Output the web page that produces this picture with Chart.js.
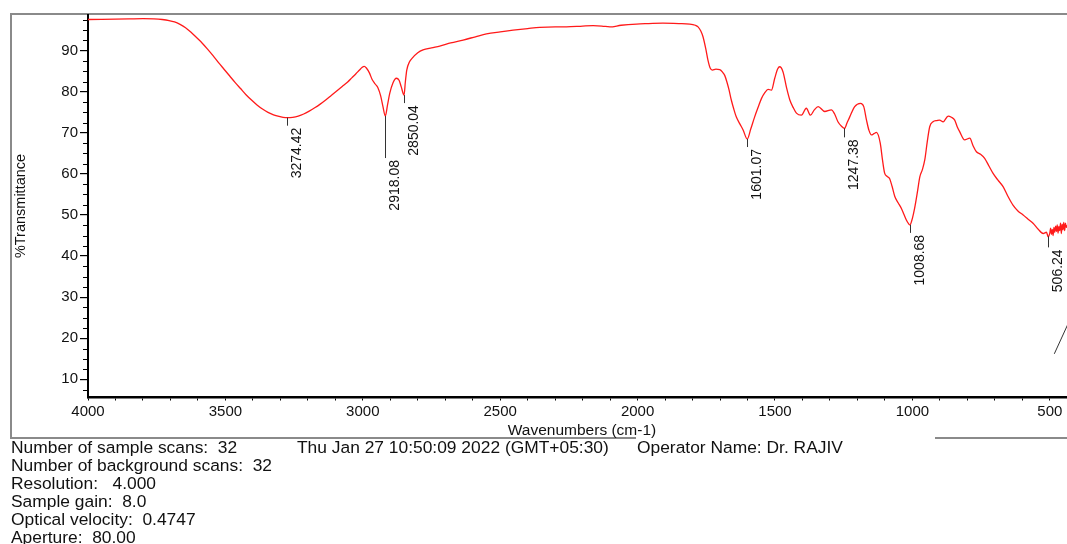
<!DOCTYPE html>
<html><head><meta charset="utf-8">
<script src="https://cdn.jsdelivr.net/npm/chart.js@4.4.1/dist/chart.umd.min.js"></script>
<style>
html,body{margin:0;padding:0;background:#fff;width:1067px;height:544px;overflow:hidden;}
#wrap{position:relative;width:1067px;height:544px;}
canvas{position:absolute;left:0;top:0;}
.info{position:absolute;font-family:"Liberation Sans",Arial,sans-serif;font-size:17.4px;line-height:18px;color:#111;white-space:pre;}
</style></head><body>
<div id="wrap"><canvas id="c" width="1067" height="544"></canvas>
<div class="info" style="left:11px;top:438px">Number of sample scans:  32
Number of background scans:  32
Resolution:   4.000
Sample gain:  8.0
Optical velocity:  0.4747
Aperture:  80.00</div>
<div class="info" style="left:297px;top:438px">Thu Jan 27 10:50:09 2022 (GMT+05:30)</div>
<div class="info" style="left:637px;top:438px">Operator Name: Dr. RAJIV</div>
</div>
<script>
const wavenumbers = [4000,3950,3900,3850,3800,3760,3730,3705,3685,3665,3645,3625,3605,3585,3565,3545,3525,3505,3485,3465,3445,3425,3405,3385,3365,3345,3325,3305,3290,3274,3255,3235,3215,3195,3175,3155,3135,3115,3095,3075,3055,3040,3025,3012,3003,2995,2987,2976,2966,2955,2945,2935,2927,2918,2910,2902,2890,2878,2868,2860,2850,2845,2840,2830,2820,2800,2781,2750,2720,2680,2635,2590,2550,2500,2453,2400,2356,2300,2259,2200,2162,2130,2101,2060,2004,1960,1908,1850,1810,1790,1780,1770,1762,1752,1744,1736,1728,1715,1701,1690,1683,1675,1667,1659,1650,1641,1628,1616,1601,1588,1574,1561,1549,1537,1525,1513,1501,1490,1483,1471,1458,1446,1434,1422,1404,1386,1371,1357,1343,1319,1295,1283,1271,1258,1247,1238,1228,1210,1189,1177,1167,1158,1149,1140,1131,1117,1109,1101,1092,1083,1074,1064,1052,1040,1031,1022,1014,1009,1000,992,982,973,964,955,946,937,925,910,901,888,870,858,846,837,828,810,791,780,767,752,737,722,707,690,670,652,634,616,597,579,561,543,524,512,506,500,497,494,491,488,485,482,479,476,473,470,467,464,461,458,455,452,449,446,443,440,437];
const transmittance = [97.6,97.65,97.7,97.75,97.8,97.75,97.6,97.35,97.0,96.4,95.6,94.5,93.2,91.9,90.4,88.8,87.1,85.5,83.9,82.3,80.8,79.3,78.0,76.8,75.8,75.0,74.4,74.0,73.8,73.7,73.8,74.1,74.6,75.3,76.1,77.0,78.0,79.1,80.2,81.3,82.4,83.4,84.4,85.3,85.9,86.2,85.8,84.6,83.0,81.9,81.0,79.0,76.5,74.1,76.8,79.6,82.2,83.3,82.8,81.2,79.2,82.5,85.3,87.3,88.2,89.5,90.2,90.7,91.1,91.9,92.6,93.4,94.1,94.6,95.0,95.4,95.7,95.8,95.8,96.0,96.1,96.0,95.8,96.2,96.5,96.6,96.7,96.6,96.5,96.2,95.8,94.8,93.4,90.5,87.7,85.8,85.3,85.5,85.4,84.7,84.0,82.4,80.4,78.0,75.8,73.9,72.2,70.7,68.5,71.0,73.9,76.3,78.4,79.8,80.6,80.4,83.3,85.6,86.1,84.9,81.0,78.0,76.2,74.8,74.3,76.0,74.3,75.6,76.4,75.2,75.6,74.6,72.7,71.6,71.1,72.4,73.9,76.4,77.2,76.4,73.1,70.6,69.5,69.8,70.1,67.5,63.5,60.2,59.4,58.9,57.0,54.5,53.0,51.6,50.2,48.8,47.9,47.6,49.2,51.6,55.5,59.3,61.0,63.4,67.8,71.5,72.7,73.0,73.1,72.7,74.1,73.8,73.1,71.5,70.3,68.3,68.7,67.0,65.4,64.8,63.8,62.0,60.2,58.6,56.9,54.5,52.4,51.0,50.0,49.0,48.0,46.6,45.5,45.8,44.7,45.6,46.8,45.3,46.5,45.0,47.0,45.8,47.3,46.0,47.6,45.6,47.2,46.2,48.0,45.5,47.8,46.4,48.2,46.2,48.0,47.0,47.5];
const peakWavenumbers = [3274.42, 2918.08, 2850.04, 1601.07, 1247.38, 1008.68, 506.24];
const peakTransmittance = [73.7, 74.1, 79.2, 68.5, 71.1, 47.6, 44.8];
const peakLabels = ['3274.42', '2918.08', '2850.04', '1601.07', '1247.38', '1008.68', '506.24'];
const leaderLineW = [483.6, 420];
const leaderLineT = [16.2, 25.5];
const yTickLabels = [10, 20, 30, 40, 50, 60, 70, 80, 90];
const xTickLabels = [4000, 3500, 3000, 2500, 2000, 1500, 1000, 500];

// styles (not data)
const peakLineLen = [8, 42, 8, 8, 9, 8, 11];
const FONT = '"Liberation Sans", Arial, sans-serif';

const xMinor = [];
for (let v = 500; v <= 4000; v += 100) xMinor.push(v);
const yMinor = [];
for (let v = 7.5; v <= 98; v += 2.5) if (v % 10 !== 0) yMinor.push(v);

const decor = {
  id: 'decor',
  beforeDraw(chart) {
    const ctx = chart.ctx;
    ctx.save();
    ctx.strokeStyle = '#8a8a8a';
    ctx.lineWidth = 2;
    ctx.beginPath();
    ctx.moveTo(1070, 14); ctx.lineTo(11, 14); ctx.lineTo(11, 438); ctx.lineTo(636, 438);
    ctx.moveTo(935, 438); ctx.lineTo(1070, 438);
    ctx.stroke();
    ctx.restore();
  },
  afterDraw(chart) {
    const ctx = chart.ctx;
    const xs = chart.scales.x, ys = chart.scales.y;
    ctx.save();
    ctx.strokeStyle = '#000';
    ctx.lineWidth = 1;
    ctx.beginPath();
    yMinor.forEach(v => {
      const py = Math.round(ys.getPixelForValue(v)) + 0.5;
      ctx.moveTo(xs.left - 5, py); ctx.lineTo(xs.left, py);
    });
    ctx.stroke();
    ctx.strokeStyle = '#333';
    ctx.fillStyle = '#111';
    ctx.font = '14px ' + FONT;
    peakWavenumbers.forEach((w, i) => {
      const px = Math.round(xs.getPixelForValue(w)) + 0.5;
      const py0 = ys.getPixelForValue(peakTransmittance[i]);
      const py1 = py0 + peakLineLen[i];
      ctx.beginPath(); ctx.moveTo(px, py0); ctx.lineTo(px, py1); ctx.stroke();
      ctx.save();
      ctx.translate(px + 3, py1 + 2);
      ctx.rotate(-Math.PI / 2);
      ctx.textAlign = 'right';
      ctx.textBaseline = 'top';
      ctx.fillText(peakLabels[i], 0, 0);
      ctx.restore();
    });
    ctx.beginPath();
    ctx.moveTo(xs.getPixelForValue(leaderLineW[0]), ys.getPixelForValue(leaderLineT[0]));
    ctx.lineTo(xs.getPixelForValue(leaderLineW[1]), ys.getPixelForValue(leaderLineT[1]));
    ctx.stroke();
    ctx.fillStyle = '#111';
    ctx.font = '15.5px ' + FONT;
    ctx.textAlign = 'center';
    ctx.textBaseline = 'middle';
    ctx.fillText('Wavenumbers (cm-1)', 582, 431);
    ctx.save();
    ctx.translate(20.5, 206);
    ctx.rotate(-Math.PI / 2);
    ctx.font = '14.5px ' + FONT;
    ctx.fillText('%Transmittance', 0, 0);
    ctx.restore();
    ctx.restore();
  }
};

new Chart(document.getElementById('c'), {
  type: 'line',
  data: {
    datasets: [{
      data: wavenumbers.map((w, i) => ({ x: w, y: transmittance[i] })),
      borderColor: '#ff1a1a',
      borderWidth: 1.3,
      pointRadius: 0,
      cubicInterpolationMode: 'monotone',
      fill: false
    }]
  },
  options: {
    responsive: false,
    animation: false,
    devicePixelRatio: 1,
    layout: { padding: { left: 0, right: 0, top: 15, bottom: 0 } },
    plugins: { legend: { display: false }, tooltip: { enabled: false } },
    scales: {
      x: {
        type: 'linear', reverse: true, min: 437.4, max: 4000,
        afterBuildTicks: s => { s.ticks = xMinor.map(v => ({ value: v })); },
        afterFit: s => { s.height = 146.5; },
        ticks: {
          autoSkip: false, maxRotation: 0, padding: 2, color: '#111',
          font: { family: FONT, size: 15 },
          callback: v => xTickLabels.includes(v) ? String(v) : ''
        },
        grid: { drawOnChartArea: false, drawTicks: true, tickLength: 3, color: '#000', lineWidth: 1 },
        border: { display: true, color: '#000', width: 2.5 }
      },
      y: {
        type: 'linear', min: 5.57, max: 98.7,
        afterBuildTicks: s => { s.ticks = yTickLabels.map(v => ({ value: v })); },
        afterFit: s => { s.width = 88; },
        ticks: { padding: 2, color: '#111', font: { family: FONT, size: 15 }, callback: v => String(v) },
        grid: { drawOnChartArea: false, drawTicks: true, tickLength: 8, color: '#000', lineWidth: 1.2 },
        border: { display: true, color: '#000', width: 2 }
      }
    }
  },
  plugins: [decor]
});
</script>
</body></html>
